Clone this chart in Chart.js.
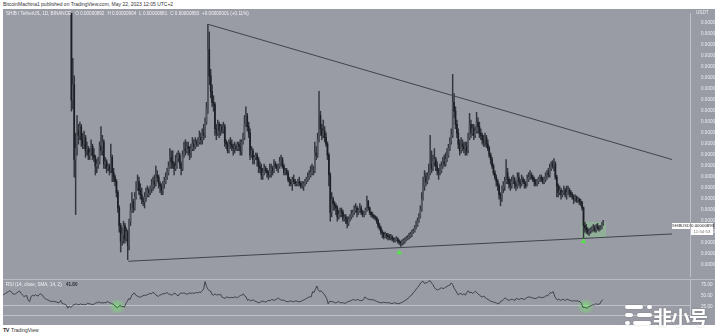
<!DOCTYPE html>
<html>
<head>
<meta charset="utf-8">
<script src="https://cdn.jsdelivr.net/npm/chart.js"></script>
<style>
html, body { margin: 0; padding: 0; background: #fff; width: 718px; height: 335px; overflow: hidden; font-family: "Liberation Sans", Arial, sans-serif; }
.abs { position: absolute; white-space: nowrap; }
#pane { left: 3px; top: 9px; width: 712px; height: 316px; background: #999ba5; }
#sep { left: 3px; top: 279px; width: 712px; height: 1px; background: #b9bbc2; }
#header { left: 3px; top: 1px; font-size: 5px; color: #333; }
#legend { left: 6px; top: 11px; font-size: 4.6px; color: #f2f3f5; }
#legend b { font-weight: normal; margin-left: 3px; }
#usdt { left: 696px; top: 10px; font-size: 4.6px; color: #eef0f3; }
#rsiLegend { left: 6px; top: 282px; font-size: 4.6px; color: #f2f3f5; }
#rsiLegend b { color: #2a2d35; margin-left: 3px; }
#symTag { left: 672px; top: 223px; width: 18px; height: 6px; background: #fff; color: #333; font-size: 4px; line-height: 6px; text-align: center; }
#lastTag { left: 691px; top: 223px; width: 22px; height: 12px; background: #fff; color: #222; font-size: 4.4px; line-height: 6px; text-align: center; }
#lastTag span { color: #777; }
#footer { left: 3px; top: 327px; font-size: 5px; color: #333; }
#footer b { font-size: 5.5px; margin-right: 2px; letter-spacing: -0.5px; }
#wm { left: 653px; top: 303px; font-family: "Noto Sans CJK SC", sans-serif; font-weight: 700; font-size: 19px; color: #fff; letter-spacing: -1px; text-shadow: 0 0 2px rgba(0,0,0,0.25); }
.pill { position: absolute; background: #fff; border-radius: 3px; height: 4px; box-shadow: 0 0 2px rgba(0,0,0,0.2); }
canvas { position: absolute; }
</style>
</head>
<body>
<div id="pane" class="abs"></div>
<div id="header" class="abs">BitcoinMachina1 published on TradingView.com, May 22, 2023 12:05 UTC+2</div>
<canvas id="main" width="712" height="271" style="left:3px;top:9px"></canvas>
<canvas id="rsi" width="712" height="45" style="left:3px;top:280px"></canvas>
<div id="sep" class="abs"></div>
<div id="legend" class="abs">SHIB / TetherUS, 1D, BINANCE <b>O 0.00000892</b><b>H 0.00000904</b><b>L 0.00000881</b><b>C 0.00000893</b><b>+0.00000001 (+0.11%)</b></div>
<div id="usdt" class="abs">USDT</div>
<div id="rsiLegend" class="abs">RSI (14, close, SMA, 14, 2) <b>41.80</b></div>
<div id="symTag" class="abs">SHIBUSDT</div>
<div id="lastTag" class="abs">0.00000893<br><span>11:54:53</span></div>
<div id="footer" class="abs"><b>TV</b>TradingView</div>
<div class="pill" style="left:625px;top:305px;width:18px"></div>
<div class="pill" style="left:647px;top:305px;width:5px"></div>
<div class="pill" style="left:625px;top:313px;width:8px"></div>
<div class="pill" style="left:637px;top:313px;width:15px"></div>
<div class="pill" style="left:625px;top:321px;width:5px"></div>
<div class="pill" style="left:633px;top:321px;width:18px"></div>
<div id="wm" class="abs">非小号</div>

<script>
// Daily SHIB/USDT candles, [high, low, close] in units of 1e-8 USDT.
// Day 0 = 1 Apr 2022; the first row is 24 Mar 2022.
const firstDay = -8;
const firstOpen = 2300;

const mar22 = [[2380,2280,2350],[2430,2330,2400],[2460,2380,2430],[2600,2420,2580],[2760,2560,2700],[2760,2620,2650],[2690,2570,2600],[2630,2460,2480]];
const apr22 = [[2520,2400,2450],[2530,2430,2480],[2590,2460,2560],[2740,2520,2700],[2830,2680,2750],[2760,2580,2620],[2640,2460,2500],[2530,2400,2420],[2470,2400,2440],[2510,2420,2470],
  [2490,2300,2430],[2450,2290,2320],[2390,2300,2360],[2430,2340,2400],[2420,2350,2380],[2440,2370,2410],[2430,2360,2390],[2400,2300,2370],[2450,2360,2420],[2480,2400,2430],
  [2520,2410,2450],[2470,2390,2410],[2420,2310,2330],[2350,2270,2300],[2320,2200,2290],[2330,2240,2260],[2290,2220,2250],[2280,2200,2220],[2260,2190,2230],[2250,2190,2220]];
const may22 = [[2240,2160,2200],[2230,2150,2180],[2200,2130,2160],[2270,2140,2240],[2250,2020,2050],[2070,1990,2020],[2030,1960,1990],[2000,1880,1940],[1960,1400,1450],[1640,1410,1520],
  [1560,1100,1180],[1300,930,1230],[1380,1200,1310],[1340,1250,1290],[1350,1270,1330],[1340,1240,1270],[1300,1230,1250],[1310,1230,1280],[1290,1190,1220],[1260,1200,1230],
  [1240,1180,1200],[1230,1180,1210],[1270,1200,1240],[1250,1180,1200],[1230,1170,1190],[1200,1110,1150],[1180,1120,1160],[1190,1140,1170],[1260,1160,1240],[1330,1200,1220],[1290,1200,1260]];
const jun22 = [[1270,1140,1160],[1190,1140,1170],[1180,1120,1140],[1160,1130,1150],[1160,1110,1130],[1250,1120,1190],[1200,1080,1120],[1140,1080,1100],[1110,1060,1080],[1090,1010,1030],
  [1040,940,960],[970,850,880],[890,760,810],[870,790,840],[900,800,880],[890,800,820],[870,810,850],[860,725,790],[910,770,900],[980,880,950],
  [1030,940,990],[1000,940,960],[1030,950,1010],[1080,1000,1050],[1110,1040,1080],[1100,1020,1040],[1070,1000,1020],[1050,980,1000],[1010,970,990],[1030,960,1010]];
const jul22 = [[1050,990,1020],[1060,1010,1040],[1050,1010,1030],[1060,1020,1050],[1090,1030,1060],[1100,1040,1080],[1110,1050,1070],[1150,1060,1110],[1130,1080,1100],[1110,1050,1070],
  [1080,1030,1060],[1070,1020,1040],[1080,1020,1070],[1100,1050,1080],[1120,1070,1100],[1140,1090,1120],[1170,1110,1150],[1230,1140,1190],[1220,1140,1170],[1220,1140,1160],
  [1170,1110,1140],[1200,1130,1150],[1210,1140,1190],[1220,1170,1200],[1210,1140,1160],[1170,1110,1140],[1220,1130,1200],[1260,1190,1230],[1270,1200,1220],[1260,1210,1240],[1260,1200,1230]];
const aug22 = [[1240,1180,1210],[1250,1190,1230],[1280,1220,1250],[1270,1220,1240],[1280,1230,1260],[1270,1240,1250],[1280,1240,1260],[1310,1250,1280],[1300,1250,1270],[1320,1250,1300],
  [1340,1270,1290],[1370,1280,1350],[1440,1340,1410],[1795,1390,1680],[1760,1520,1560],[1590,1460,1490],[1520,1420,1440],[1470,1400,1430],[1440,1290,1320],[1340,1270,1300],
  [1360,1290,1340],[1350,1280,1310],[1340,1290,1330],[1340,1300,1310],[1350,1300,1330],[1340,1240,1260],[1270,1230,1250],[1260,1210,1220],[1270,1210,1260],[1280,1230,1250],[1270,1220,1240]];
const sep22 = [[1250,1200,1230],[1260,1210,1240],[1250,1220,1230],[1260,1220,1250],[1260,1220,1240],[1270,1200,1220],[1270,1200,1260],[1300,1250,1280],[1380,1270,1340],[1420,1330,1380],
  [1390,1310,1330],[1350,1280,1300],[1320,1180,1200],[1240,1190,1220],[1230,1160,1180],[1200,1160,1190],[1210,1180,1200],[1210,1150,1180],[1190,1120,1150],[1170,1120,1140],
  [1160,1090,1110],[1140,1090,1120],[1160,1110,1140],[1150,1120,1130],[1140,1100,1120],[1130,1090,1110],[1160,1100,1130],[1160,1100,1140],[1150,1110,1130],[1180,1120,1160]];
const oct22 = [[1170,1140,1150],[1160,1130,1140],[1160,1120,1150],[1190,1140,1170],[1200,1150,1180],[1190,1140,1150],[1160,1110,1120],[1140,1110,1130],[1140,1110,1120],[1130,1080,1090],
  [1100,1060,1080],[1090,1060,1070],[1100,1040,1090],[1110,1070,1080],[1090,1060,1070],[1080,1060,1070],[1090,1060,1080],[1100,1060,1070],[1080,1050,1060],[1080,1050,1060],
  [1080,1040,1070],[1090,1060,1080],[1100,1070,1090],[1120,1080,1100],[1130,1090,1110],[1150,1100,1120],[1160,1110,1130],[1150,1110,1130],[1260,1120,1210],[1240,1180,1200],[1300,1190,1270]];
const nov22 = [[1490,1260,1380],[1400,1290,1320],[1340,1270,1290],[1360,1280,1310],[1330,1260,1280],[1300,1240,1250],[1260,1180,1200],[1210,1060,1110],[1120,900,940],[1030,920,1000],
  [1010,950,980],[990,950,970],[980,930,960],[970,900,920],[950,910,930],[960,920,950],[960,920,940],[950,900,910],[930,900,920],[930,890,910],
  [920,870,890],[920,880,910],[930,900,920],[950,910,930],[950,920,940],[970,930,950],[980,940,960],[970,920,940],[960,930,950],[980,940,960]];
const dec22 = [[970,930,940],[950,920,930],[945,920,935],[960,930,950],[1014,945,990],[995,950,960],[965,930,940],[945,920,930],[940,915,925],[930,910,920],
  [925,905,915],[920,890,900],[910,870,880],[890,860,870],[875,840,850],[860,825,845],[850,820,830],[850,825,840],[845,820,835],[845,815,830],
  [840,815,825],[840,815,830],[835,810,820],[825,805,815],[825,805,815],[830,810,820],[825,800,810],[815,795,805],[810,785,800],[815,790,805],[820,795,810]];
const jan23 = [[825,800,815],[830,810,820],[835,815,825],[845,820,830],[850,825,840],[860,830,850],[865,845,855],[880,850,870],[900,865,880],[915,875,900],
  [935,895,920],[970,915,950],[1030,945,1000],[1100,995,1060],[1130,1040,1100],[1120,1060,1080],[1120,1070,1100],[1160,1090,1120],[1290,1110,1160],[1220,1120,1140],
  [1200,1130,1170],[1230,1150,1180],[1190,1130,1150],[1170,1110,1130],[1140,1090,1120],[1160,1110,1130],[1170,1120,1150],[1190,1140,1170],[1200,1150,1160],[1210,1150,1180],[1230,1170,1200]];
const feb23 = [[1250,1190,1230],[1280,1220,1260],[1320,1250,1290],[1567,1280,1440],[1480,1370,1400],[1420,1320,1340],[1360,1280,1300],[1320,1230,1250],[1270,1200,1220],[1280,1210,1250],
  [1270,1220,1240],[1260,1210,1230],[1260,1200,1240],[1260,1200,1220],[1300,1210,1280],[1390,1270,1340],[1360,1280,1300],[1340,1290,1320],[1340,1270,1290],[1330,1280,1310],
  [1395,1300,1350],[1370,1300,1330],[1350,1280,1300],[1320,1270,1290],[1300,1250,1270],[1290,1240,1260],[1300,1240,1280],[1290,1235,1250]];
const mar23 = [[1270,1220,1230],[1240,1190,1200],[1210,1160,1180],[1190,1140,1150],[1160,1110,1120],[1130,1090,1100],[1110,1060,1080],[1090,1040,1060],[1070,1000,1020],[1030,970,1010],
  [1060,990,1050],[1080,1030,1060],[1100,1040,1080],[1180,1070,1120],[1140,1070,1090],[1100,1050,1070],[1090,1040,1060],[1100,1050,1080],[1110,1070,1090],[1100,1050,1070],
  [1080,1040,1060],[1120,1050,1100],[1120,1060,1080],[1090,1050,1070],[1110,1060,1090],[1100,1070,1080],[1090,1050,1070],[1080,1050,1060],[1110,1060,1090],[1120,1080,1100],[1130,1090,1110]];
const apr23 = [[1120,1090,1100],[1110,1080,1090],[1100,1060,1080],[1090,1060,1070],[1090,1060,1080],[1100,1070,1090],[1110,1080,1100],[1110,1080,1090],[1100,1070,1080],[1100,1070,1090],
  [1120,1080,1100],[1130,1090,1120],[1140,1100,1110],[1160,1100,1140],[1170,1130,1160],[1175,1140,1150],[1185,1130,1160],[1170,1090,1100],[1110,1010,1060],[1070,1010,1030],
  [1060,1020,1040],[1050,1000,1020],[1040,1010,1030],[1060,1020,1040],[1050,1010,1020],[1060,1000,1030],[1060,1020,1040],[1050,1010,1030],[1040,1010,1020],[1030,1000,1010]];
const may23 = [[1020,980,1000],[1020,990,1010],[1015,985,995],[1010,985,1000],[1005,975,990],[1000,970,985],[990,950,960],[965,824,880],[895,850,870],[885,845,860],
  [870,840,850],[865,835,855],[870,845,860],[875,850,865],[885,855,870],[880,850,860],[885,850,875],[890,860,870],[880,855,865],[880,860,870],[895,865,892],[904,881,893]];

// RSI(14) per day, same dates as the candles
const rsiMar22 = [52,54,56,58,60,62,60,55];
const rsiApr22 = [54,55,57,60,61,56,52,49,50,51,40,37,48,52,50,53,51,50,54,55,52,47,44,42,41,39,38,37,38,37];
const rsiMay22 = [36,35,35,40,33,32,31,29,22,27,24,26,30,30,32,30,30,32,30,31,30,31,33,32,32,30,31,32,35,34,37];
const rsiJun22 = [34,35,34,35,34,38,35,34,33,31,28,26,23,26,29,25,27,24,33,37,44,42,50,55,57,52,50,48,47,49];
const rsiJul22 = [50,52,51,53,54,56,55,58,57,53,51,49,52,53,55,55,56,58,55,54,52,53,56,56,52,50,55,57,56,57,56];
const rsiAug22 = [54,55,57,56,57,56,57,58,57,59,58,62,66,83,72,66,62,61,53,52,55,52,54,52,54,47,46,44,48,47,46];
const rsiSep22 = [46,47,46,48,47,46,49,51,52,55,50,48,40,42,39,40,41,39,37,36,34,36,38,38,37,36,39,40,39,42];
const rsiOct22 = [41,40,42,44,45,42,40,41,40,38,37,37,39,38,37,37,39,38,37,37,38,40,41,43,45,47,48,48,60,58,66];
const rsiNov22 = [73,64,60,62,58,55,50,44,32,38,37,37,36,34,35,37,36,34,35,34,33,35,37,38,39,41,42,40,41,42];
const rsiDec22 = [40,39,40,42,48,45,43,42,42,41,41,40,38,37,35,35,34,36,35,35,34,35,33,33,33,35,33,33,32,34,35];
const rsiJan23 = [37,39,41,43,47,50,52,57,60,65,69,73,78,82,84,79,80,81,84,85,80,76,70,66,64,65,67,69,67,68,70];
const rsiFeb23 = [72,74,75,80,76,68,63,57,52,56,55,53,55,52,58,62,57,59,56,58,61,58,54,52,49,48,50,46];
const rsiMar23 = [44,42,40,38,37,36,35,34,32,33,38,39,42,46,43,41,40,42,43,41,40,45,43,42,44,44,43,42,46,47,48];
const rsiApr23 = [47,46,45,44,45,46,48,47,46,47,48,51,50,54,58,57,60,50,44,41,43,40,41,43,40,41,43,41,40,39];
const rsiMay23 = [38,40,38,39,38,37,33,24,24,23,22,25,27,28,30,29,32,31,31,32,38,41.8];

// Axis ticks
const priceTicks = [700,750,800,850,900,950,1000,1050,1100,1150,1200,1250,1300,1350,1400,1450,1500,1550,1600,1650,1700,1750,1800];
const rsiTicks = [25, 50, 75];
const monthDays = [0,30,61,91,122,153,183,214,244,275,306,334,365,395,426];
const monthLabels = ['Apr','May','Jun','Jul','Aug','Sep','Oct','Nov','Dec','2023','Feb','Mar','Apr','May','Jun'];

// Drawings on the chart (day, price)
const upperTrend = [[135, 1795], [465, 1180]];
const lowerTrend = [[78.4, 718], [465, 842]];
const arrowDays = [271, 402];
const arrowPrices = [757, 808];
const highlightBox = { from: 400, to: 418, low: 826, high: 897 };
const rsiGlows = [[73, 26], [404, 26]];
const rsiBand = 30;

const xMin = -7.8, xMax = 477.7;
const textColor = '#eceef2';
const axisLine = '#bfc1c8';
const upColor = '#555862', downColor = '#1c1e24', wickColor = '#34363e';

const bars = [].concat(mar22, apr22, may22, jun22, jul22, aug22, sep22, oct22, nov22, dec22, jan23, feb23, mar23, apr23, may23);
const rsiValues = [].concat(rsiMar22, rsiApr22, rsiMay22, rsiJun22, rsiJul22, rsiAug22, rsiSep22, rsiOct22, rsiNov22, rsiDec22, rsiJan23, rsiFeb23, rsiMar23, rsiApr23, rsiMay23);

const wickData = [], bodyData = [], bodyColors = [];
let prevClose = firstOpen;
bars.forEach(([h, l, c], i) => {
  const x = firstDay + i;
  wickData.push({ x, y: [l, h] });
  bodyData.push({ x, y: [prevClose, c] });
  bodyColors.push(c >= prevClose ? upColor : downColor);
  prevClose = c;
});
const rsiData = rsiValues.map((v, i) => ({ x: firstDay + i, y: v }));
const toPts = arr => arr.map(([x, y]) => ({ x, y }));

const noPad = s => { s.paddingTop = 0; s.paddingBottom = 0; s.paddingLeft = 0; s.paddingRight = 0; };
const tickFont = { family: 'Liberation Sans', size: 4.6 };

const mainDrawings = {
  id: 'mainDrawings',
  beforeDatasetsDraw(chart) {
    const { ctx, scales: { x, y } } = chart;
    const x0 = x.getPixelForValue(highlightBox.from), x1 = x.getPixelForValue(highlightBox.to);
    const y0 = y.getPixelForValue(highlightBox.high), y1 = y.getPixelForValue(highlightBox.low);
    ctx.save();
    ctx.fillStyle = 'rgba(130, 215, 125, 0.35)';
    ctx.fillRect(x0, y0, x1 - x0, y1 - y0);
    ctx.restore();
  }
};

const rsiDrawings = {
  id: 'rsiDrawings',
  beforeDatasetsDraw(chart) {
    const { ctx, scales: { x, y }, chartArea } = chart;
    ctx.save();
    ctx.strokeStyle = axisLine;
    ctx.lineWidth = 1;
    const by = Math.round(y.getPixelForValue(rsiBand)) + 0.5;
    ctx.beginPath();
    ctx.moveTo(chartArea.left, by);
    ctx.lineTo(chartArea.right, by);
    ctx.stroke();
    rsiGlows.forEach(([d, v]) => {
      const cx = x.getPixelForValue(d), cy = y.getPixelForValue(v);
      const g = ctx.createRadialGradient(cx, cy, 0, cx, cy, 9);
      g.addColorStop(0, 'rgba(120, 230, 110, 0.75)');
      g.addColorStop(1, 'rgba(120, 230, 110, 0)');
      ctx.fillStyle = g;
      ctx.beginPath();
      ctx.ellipse(cx, cy, 10, 7, 0, 0, Math.PI * 2);
      ctx.fill();
    });
    ctx.restore();
  }
};

new Chart(document.getElementById('main'), {
  type: 'bar',
  data: {
    datasets: [
      { data: wickData, backgroundColor: wickColor, barThickness: 0.8, grouped: false, order: 3 },
      { data: bodyData, backgroundColor: bodyColors, barThickness: 1, grouped: false, order: 2 },
      { type: 'line', data: toPts(upperTrend), borderColor: '#40434c', borderWidth: 1, pointRadius: 0, order: 1 },
      { type: 'line', data: toPts(lowerTrend), borderColor: '#40434c', borderWidth: 1, pointRadius: 0, order: 1 },
      { type: 'line', data: arrowDays.map((d, i) => ({ x: d, y: arrowPrices[i] })), showLine: false,
        pointStyle: 'triangle', pointRadius: 3.3, backgroundColor: '#58e04f', borderWidth: 0, order: 0 }
    ]
  },
  options: {
    responsive: false,
    animation: false,
    events: [],
    layout: { padding: 0 },
    plugins: { legend: { display: false }, tooltip: { enabled: false } },
    scales: {
      x: { type: 'linear', min: xMin, max: xMax, offset: false, display: false },
      y: {
        position: 'right', min: 651, max: 1846,
        grid: { display: false },
        border: { color: axisLine },
        afterBuildTicks: s => { s.ticks = priceTicks.map(v => ({ value: v })); },
        afterFit: s => { s.width = 25; noPad(s); },
        ticks: { color: textColor, font: tickFont, padding: 3, callback: v => (v / 1e8).toFixed(8) }
      }
    }
  },
  plugins: [mainDrawings]
});

new Chart(document.getElementById('rsi'), {
  type: 'line',
  data: {
    datasets: [
      { data: rsiData, borderColor: '#2b2e36', borderWidth: 0.8, pointRadius: 0, tension: 0 }
    ]
  },
  options: {
    responsive: false,
    animation: false,
    events: [],
    layout: { padding: 0 },
    plugins: { legend: { display: false }, tooltip: { enabled: false } },
    scales: {
      x: {
        type: 'linear', min: xMin, max: xMax, offset: false,
        grid: { display: false },
        border: { color: axisLine },
        afterBuildTicks: s => { s.ticks = monthDays.map(v => ({ value: v })); },
        afterFit: s => { s.height = 10; noPad(s); },
        ticks: { color: textColor, font: tickFont, padding: 2, autoSkip: false, maxRotation: 0,
          callback: v => monthLabels[monthDays.indexOf(v)] }
      },
      y: {
        position: 'right', min: 6.4, max: 86.7,
        grid: { display: false },
        border: { color: axisLine },
        afterBuildTicks: s => { s.ticks = rsiTicks.map(v => ({ value: v })); },
        afterFit: s => { s.width = 25; noPad(s); },
        ticks: { color: textColor, font: tickFont, padding: 3, callback: v => v.toFixed(2) }
      }
    }
  },
  plugins: [rsiDrawings]
});
</script>
</body>
</html>
